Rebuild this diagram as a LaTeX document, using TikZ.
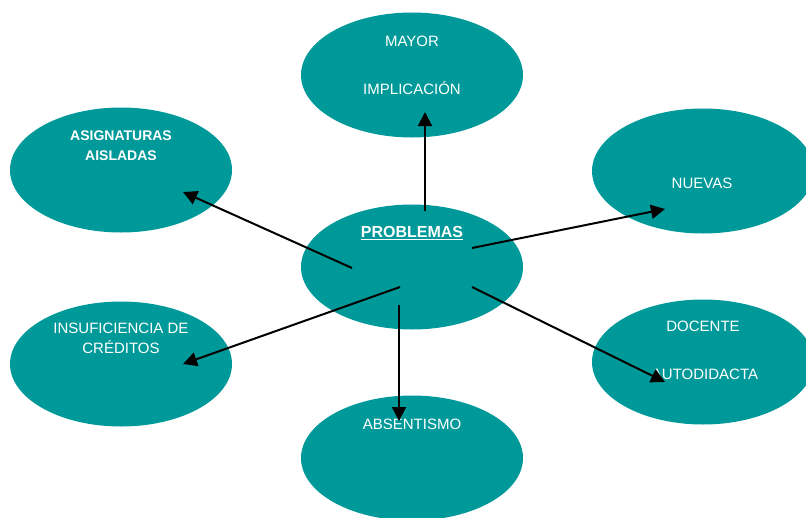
\documentclass[tikz,border=0pt]{standalone}
\usepackage{fontspec}
\setmainfont{Liberation Sans}
\usetikzlibrary{shapes.geometric}
\usetikzlibrary{arrows.meta}
\definecolor{teal}{RGB}{0,153,153}

\tikzset{
  blob/.style={ellipse, fill=teal, minimum width=222pt, minimum height=125pt, inner sep=0pt},
  lbl/.style={text=white, font=\fontsize{15}{18}\selectfont, inner sep=0pt},
  link/.style={-{Triangle[length=14pt,width=14pt]}, line width=2pt}
}

\begin{document}
\begin{tikzpicture}[x=1pt, y=-1pt]
            \useasboundingbox (0,0) rectangle (806,517);
            % Ellipses
            \node[blob] (mayor) at (412,75) {};
            \node[blob] (asig) at (121,170) {};
            \node[blob] (nuevas) at (703,171) {};
            \node[blob] (prob) at (412,267) {};
            \node[blob] (insuf) at (121,364) {};
            \node[blob] (docente) at (703,362) {};
            \node[blob] (absent) at (412,458) {};

            % Texts
            \node[lbl] (t1) at (412,41) {MAYOR};
            \node[lbl] (t2) at (412,88) {IMPLICACIÓN};
            \node[lbl, font=\fontsize{14}{17}\selectfont\bfseries, align=center] (t3) at (121,146) {ASIGNATURAS\\[3pt]AISLADAS};
            \node[lbl, font=\fontsize{16}{19}\selectfont\bfseries] (t4) at (412,233) {\underline{PROBLEMAS}};
            \node[lbl] (t5) at (702,183) {NUEVAS};
            \node[lbl, align=center] (t6) at (121,338) {INSUFICIENCIA DE\\[2pt]CRÉDITOS};
            \node[lbl] (t7) at (703,326) {DOCENTE};
            \node[lbl] (t8) at (705,374) {AUTODIDACTA};
            \node[lbl] (t9) at (412,424) {ABSENTISMO};

            % Arrow ends
            \coordinate (pUp) at (425,211);
            \coordinate (pUL) at (352,268);
            \coordinate (pUR) at (472,248);
            \coordinate (pDL) at (400,287);
            \coordinate (pDR) at (472,287);
            \coordinate (pDn) at (399,305);
            \coordinate (qUp) at (425,112);
            \coordinate (qUL) at (183,192);
            \coordinate (qUR) at (665,209);
            \coordinate (qDL) at (183,364);
            \coordinate (qDR) at (665,382);
            \coordinate (qDn) at (399,421);

            % Arrows
            \draw[link] (pUp) -- (qUp);
            \draw[link] (pUL) -- (qUL);
            \draw[link] (pUR) -- (qUR);
            \draw[link] (pDL) -- (qDL);
            \draw[link] (pDR) -- (qDR);
            \draw[link] (pDn) -- (qDn);
        \end{tikzpicture}
\end{document}
